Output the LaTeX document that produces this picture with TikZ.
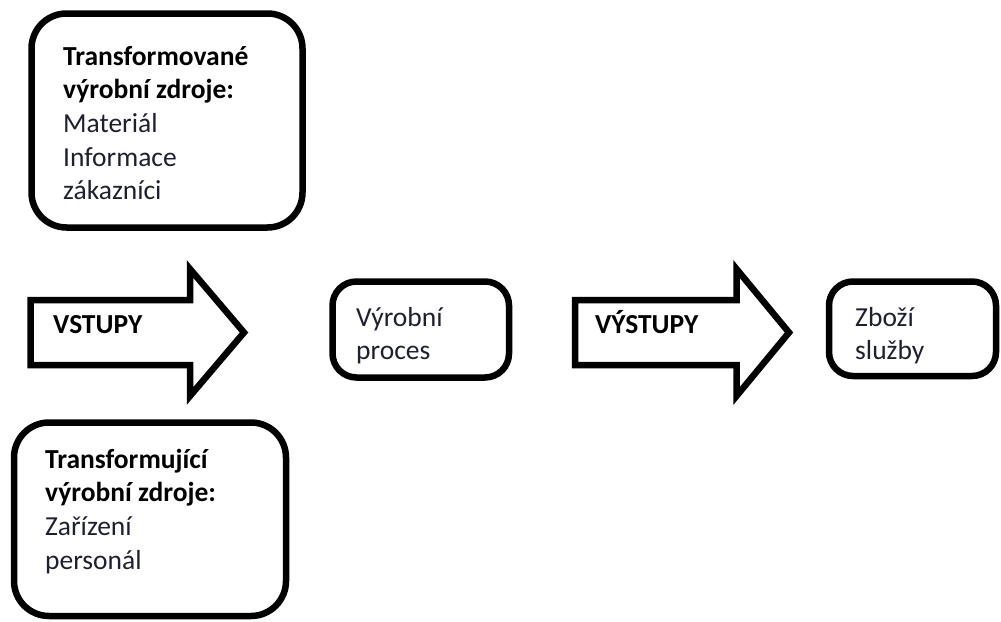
\documentclass[tikz,border=0pt]{standalone}
\usepackage{fontspec}
\setmainfont{Carlito}
\definecolor{ink}{RGB}{30,32,48}
\newcommand\boldline[1]{\leavevmode{\bfseries\color{black}#1}}
\begin{document}
\begin{tikzpicture}[x=1pt,y=-1pt,
  outline/.style={draw=black, line width=6.5pt},
  box/.style={outline, rectangle, rounded corners=#1, anchor=north west,
    inner sep=0pt, outer sep=0pt},
  box/.default=35pt,
  blockarrow/.style={outline, line join=miter, miter limit=12, fill=white},
  label/.style={anchor=base west, inner sep=0pt, text=ink,
    font=\fontsize{27.5}{33.7}\selectfont},
  heading/.style={label, text=black, font=\fontsize{27.5}{33.7}\selectfont\bfseries}]

\useasboundingbox (0,0) rectangle (1001,621);

% resource boxes
\node[box, minimum width=271pt, minimum height=214pt] (transformed) at (31.5,13.5) {};
\node[box, minimum width=272pt, minimum height=193.5pt] (transforming) at (14,422.5) {};

% process and output boxes
\node[box=24pt, minimum width=176.5pt, minimum height=96pt] (process) at (332.5,281.5) {};
\node[box=24pt, minimum width=167pt, minimum height=94.5pt] (goods) at (829,281.5) {};

% block arrows
\draw[blockarrow] (30.5,300) -- (190,300) -- (190,269) -- (244,332.5)
  -- (190,396) -- (190,365) -- (30.5,365) -- cycle;
\draw[blockarrow] (575,300) -- (736.5,300) -- (736.5,269) -- (789,332.5)
  -- (736.5,396) -- (736.5,365) -- (575,365) -- cycle;

% texts
\node[label] (transformedtext) at (63,65) {\begin{minipage}[t]{230pt}
  \boldline{Transformované}\\ \boldline{výrobní zdroje:}\\ Materiál\\ Informace\\ zákazníci
  \end{minipage}};
\node[label] (transformingtext) at (45,468) {\begin{minipage}[t]{230pt}
  \boldline{Transformující}\\ \boldline{výrobní zdroje:}\\ Zařízení\\ personál
  \end{minipage}};
\node[label] (processtext) at (356,326) {\begin{minipage}[t]{140pt}
  Výrobní\\ proces\end{minipage}};
\node[label] (goodstext) at (855,326) {\begin{minipage}[t]{130pt}
  Zboží\\ služby\end{minipage}};
\node[heading] (inputs) at (53,333) {VSTUPY};
\node[heading] (outputs) at (595,333) {VÝSTUPY};
\end{tikzpicture}
\end{document}
